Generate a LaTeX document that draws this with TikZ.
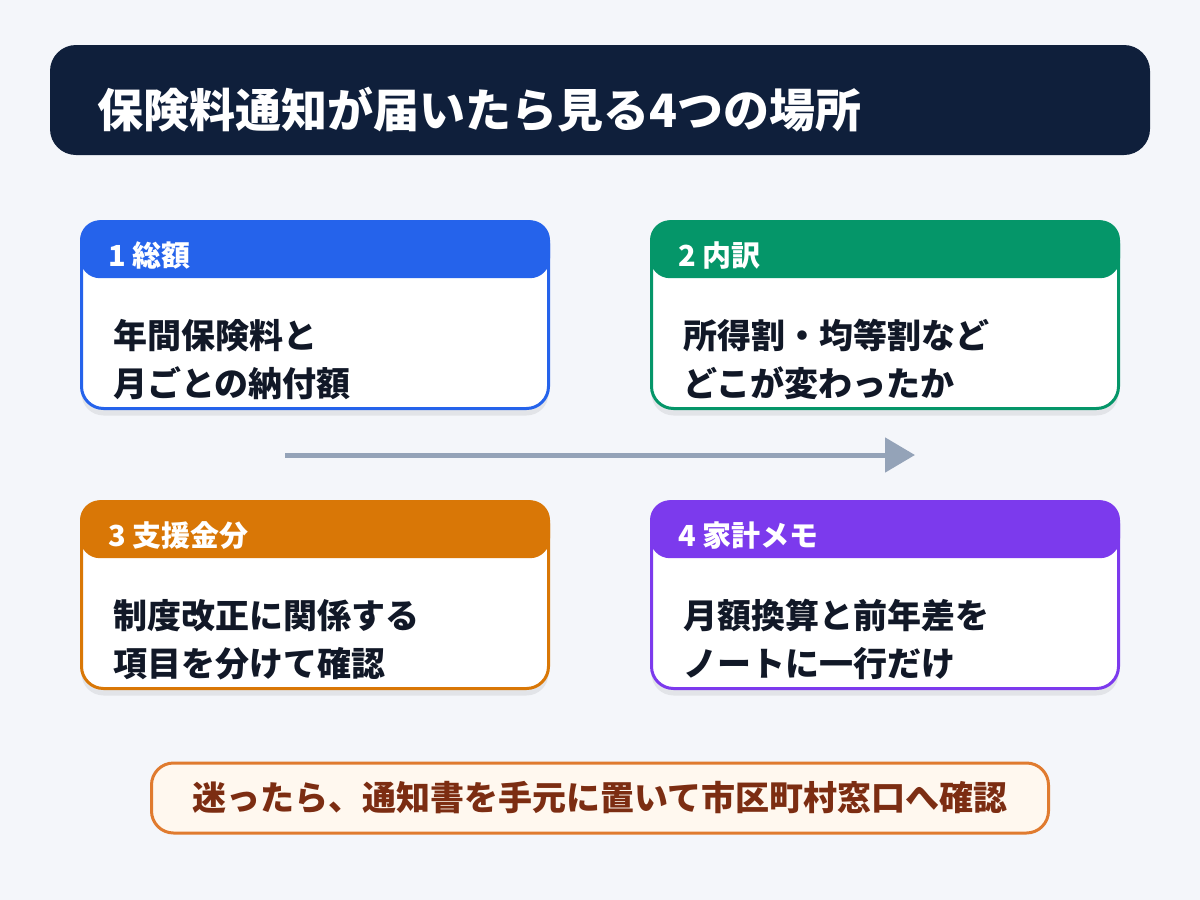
\documentclass[tikz,border=0pt]{standalone}
\usepackage{fontspec}
\setmainfont{Noto Sans CJK JP}
\usetikzlibrary{arrows.meta, positioning, shadows}

\definecolor{bgc}{HTML}{F4F6FA}
\definecolor{navy}{HTML}{0F1F3B}
\definecolor{ink}{HTML}{111827}
\definecolor{cblue}{HTML}{2563EB}
\definecolor{cgreen}{HTML}{059669}
\definecolor{corange}{HTML}{D97706}
\definecolor{cpurple}{HTML}{7C3AED}
\definecolor{arrowgray}{HTML}{94A3B8}
\definecolor{noteline}{HTML}{E07B2F}
\definecolor{notefill}{HTML}{FFF8EF}
\definecolor{notetext}{HTML}{7C2D12}

\begin{document}
\begin{tikzpicture}[
x=1pt, y=-1pt,
bar/.style={rectangle, rounded corners=26pt, fill=navy, minimum width=1100pt, minimum height=110pt, inner sep=0pt},
titletext/.style={anchor=base west, inner sep=0pt, text=white, font=\bfseries\fontsize{46}{50}\selectfont},
card/.style={rectangle, rounded corners=22pt, draw=#1, fill=white, line width=3pt, minimum width=467pt, minimum height=187pt, inner sep=0pt,
  drop shadow={shadow xshift=0pt, shadow yshift=-7pt, opacity=.07, fill=black}},
head/.style={rectangle, rounded corners=20pt, fill=#1, minimum width=470pt, minimum height=58pt, inner sep=0pt, anchor=north},
headtext/.style={anchor=base west, inner sep=0pt, text=white, font=\bfseries\fontsize{29}{32}\selectfont},
body/.style={anchor=base west, inner sep=0pt, text=ink, font=\bfseries\fontsize{34}{40}\selectfont},
note/.style={rectangle, rounded corners=22pt, draw=noteline, fill=notefill, line width=3pt, minimum width=897pt, minimum height=70pt, inner sep=0pt, text=notetext, font=\bfseries\fontsize{34}{40}\selectfont},
line/.style={-{Triangle[length=30pt, width=34pt]}, line width=5pt, draw=arrowgray}
]
% background
\fill[bgc] (0,0) rectangle (1200,900);

% title
\node[bar] (bar) at (600,100) {};
\node[titletext] (ttl) at (97,127) {保険料通知が届いたら見る4つの場所};

% cards
\node[card=cblue] (c1) at (315,315) {};
\node[head=cblue] (h1) at (c1.north) {};
\node[headtext] (k1) at ([shift={(28,46)}]c1.north west) {1 総額};
\node[body] (t1a) at ([shift={(33,128)}]c1.north west) {年間保険料と};
\node[body] (t1b) at ([shift={(33,176)}]c1.north west) {月ごとの納付額};

\node[card=cgreen] (c2) at (885,315) {};
\node[head=cgreen] (h2) at (c2.north) {};
\node[headtext] (k2) at ([shift={(28,46)}]c2.north west) {2 内訳};
\node[body] (t2a) at ([shift={(33,128)}]c2.north west) {所得割・均等割など};
\node[body] (t2b) at ([shift={(33,176)}]c2.north west) {どこが変わったか};

\node[card=corange] (c3) at (315,595) {};
\node[head=corange] (h3) at (c3.north) {};
\node[headtext] (k3) at ([shift={(28,46)}]c3.north west) {3 支援金分};
\node[body] (t3a) at ([shift={(33,128)}]c3.north west) {制度改正に関係する};
\node[body] (t3b) at ([shift={(33,176)}]c3.north west) {項目を分けて確認};

\node[card=cpurple] (c4) at (885,595) {};
\node[head=cpurple] (h4) at (c4.north) {};
\node[headtext] (k4) at ([shift={(28,46)}]c4.north west) {4 家計メモ};
\node[body] (t4a) at ([shift={(33,128)}]c4.north west) {月額換算と前年差を};
\node[body] (t4b) at ([shift={(33,176)}]c4.north west) {ノートに一行だけ};

% flow arrow
\coordinate (a0) at (285,455);
\coordinate (a1) at (915,455);
\draw[line] (a0) -- (a1);

% footer
\node[note] (tip) at (600,798) {迷ったら、通知書を手元に置いて市区町村窓口へ確認};
\end{tikzpicture}
\end{document}
